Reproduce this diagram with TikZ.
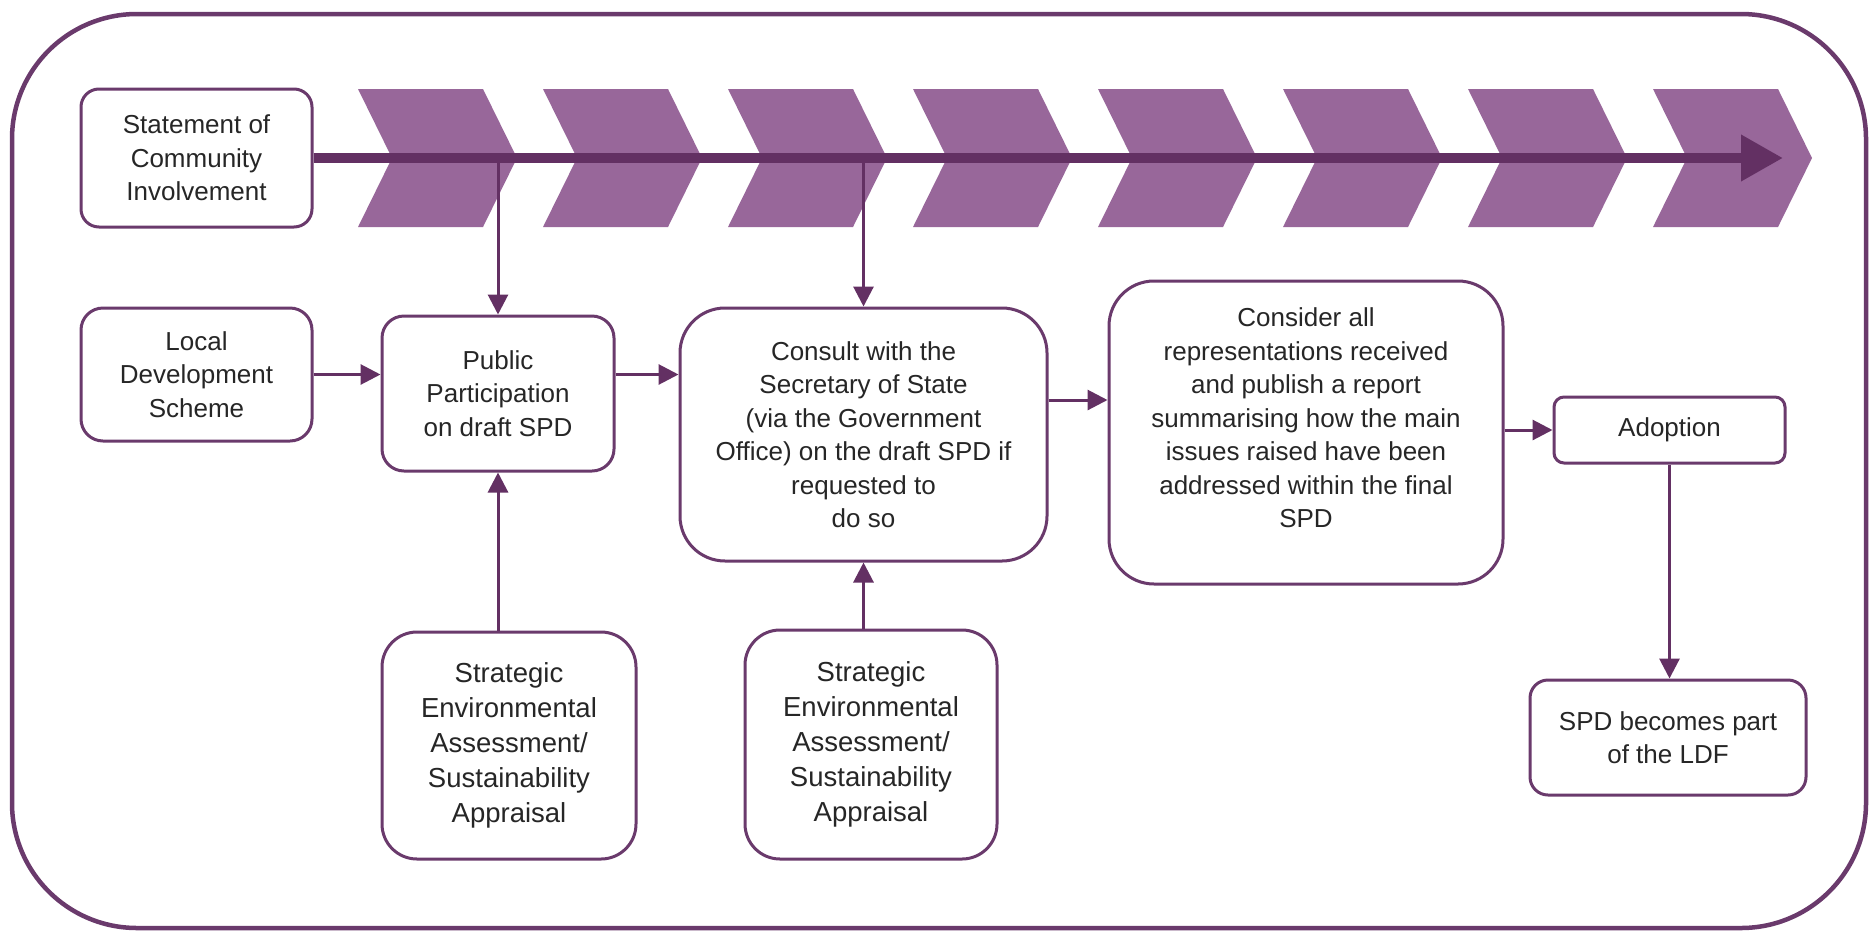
\documentclass[tikz,border=0pt]{standalone}
\usepackage{fontspec}
\setmainfont{Liberation Sans}
\usetikzlibrary{arrows.meta,calc}
\definecolor{chev}{HTML}{98679A}
\definecolor{dark}{HTML}{633063}
\definecolor{bord}{HTML}{6A3A6C}
\begin{document}
\begin{tikzpicture}[x=1pt,y=-1pt,
  box/.style={draw=bord, line width=3pt, rounded corners=22pt, align=center,
    font=\fontsize{26}{33.5}\selectfont, text=black!85, inner sep=0pt, fill=white},
  bigbox/.style={box, rounded corners=45pt},
  seabox/.style={box, rounded corners=35pt, font=\fontsize{27.5}{35}\selectfont},
  conn/.style={draw=dark, line width=3pt, -{Triangle[length=20pt,width=20pt]}}]
\useasboundingbox (0,0) rectangle (1870,932);
\draw[bord, line width=4.5pt, rounded corners=125pt] (12,14) rectangle (1866,928);
% chevrons
\foreach \k in {0,...,7} {
  \pgfmathsetmacro\xo{358+185*\k}
  \fill[chev] (\xo,89) -- ++(125,0) -- ++(34,69) -- ++(-34,69) -- ++(-125,0) -- ++(34,-69) -- cycle;
}
% nodes
\node[box, rounded corners=18pt, minimum width=231pt, minimum height=138pt] (sci) at (196.5,158) {Statement of\\Community\\Involvement};
\node[box, minimum width=231pt, minimum height=133pt] (lds) at (196.5,374.5) {Local\\Development\\Scheme};
\node[box, minimum width=232pt, minimum height=155pt] (pp) at (498,393.5) {Public\\Participation\\on draft SPD};
\node[bigbox, minimum width=367pt, minimum height=253pt] (consult) at (863.5,434.5) {Consult with the\\Secretary of State\\(via the Government\\Office) on the draft SPD if\\requested to\\do so};
\node[bigbox, minimum width=394pt, minimum height=303pt] (consider) at (1306,432.5) {Consider all\\representations received\\and publish a report\\summarising how the main\\issues raised have been\\addressed within the final\\SPD\\[-4pt]\mbox{}};
\node[box, rounded corners=10pt, minimum width=231pt, minimum height=66pt] (adopt) at (1669.5,430) {Adoption};
\node[box, rounded corners=18pt, minimum width=276pt, minimum height=115pt] (spd) at (1668,737.5) {SPD becomes part\\of the LDF};
\node[seabox, minimum width=254pt, minimum height=227pt] (sea1) at (509,745.5) {Strategic\\Environmental\\Assessment/\\Sustainability\\Appraisal};
\node[seabox, minimum width=252pt, minimum height=229pt] (sea2) at (871,744.5) {Strategic\\Environmental\\Assessment/\\Sustainability\\Appraisal};
% main timeline arrow
\coordinate (tip) at (1783,158);
\draw[dark, line width=10pt, -{Triangle[length=42pt,width=44pt]}] (sci.east) -- (tip);
% connectors
\draw[conn] (pp.north |- sci.east) -- (pp.north);
\draw[conn] (consult.north |- sci.east) -- (consult.north);
\draw[conn] (lds.east) -- (lds.east -| pp.west);
\draw[conn] (pp.east |- lds.east) -- (consult.west |- lds.east);
\draw[conn] ([yshift=34.5pt]consult.east) -- ([yshift=34.5pt]consult.east -| consider.west);
\draw[conn] (consider.east |- adopt.west) -- (adopt.west);
\draw[conn] (adopt.south) -- (adopt.south |- spd.north);
\draw[conn] (sea1.north -| pp.south) -- (pp.south);
\draw[conn] (sea2.north -| consult.south) -- (consult.south);
\end{tikzpicture}
\end{document}
